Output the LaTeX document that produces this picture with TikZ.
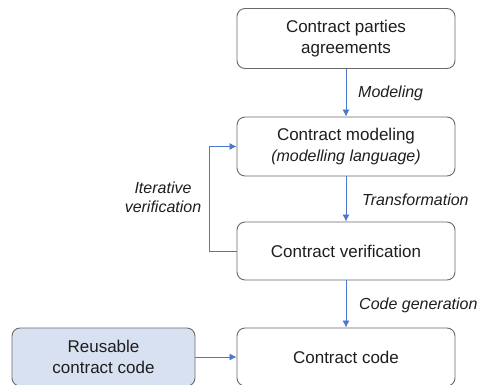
\documentclass[tikz,border=0pt]{standalone}
\usepackage{fontspec}
\setmainfont{Liberation Sans}
\usetikzlibrary{arrows.meta}
\definecolor{boxline}{HTML}{6A6A6A}
\definecolor{arrowblue}{HTML}{4A78CC}
\definecolor{reusefill}{HTML}{D8E1F1}
\definecolor{txt}{HTML}{1E1E1E}
\tikzset{
  x=1pt, y=-1pt,
  procbox/.style={draw=boxline, line width=0.9pt, rounded corners=8pt, fill=white,
    minimum height=58pt, align=center, text=txt, inner sep=0pt,
    font=\fontsize{17}{21.5}\selectfont},
  reusebox/.style={procbox, fill=reusefill},
  flow/.style={draw=arrowblue, line width=0.8pt, -{Latex[length=7pt,width=7pt]}},
  lbl/.style={font=\fontsize{16}{19}\selectfont\itshape, text=txt, inner sep=0pt, align=center}
}
\begin{document}
\begin{tikzpicture}
\useasboundingbox (0,0) rectangle (477,385);
\node[procbox, minimum width=218pt, minimum height=60pt] (cpa) at (346,38.5) {Contract parties\\agreements};
\node[procbox, minimum width=218pt, minimum height=59pt] (cm) at (346,146.5) {Contract modeling\\{\fontsize{16}{19}\selectfont\itshape (modelling language)}};
\node[procbox, minimum width=218pt] (cv) at (346,251) {Contract verification};
\node[procbox, minimum width=218pt] (cc) at (346,357) {Contract code};
\node[reusebox, minimum width=183pt] (rc) at (103.5,357) {Reusable\\contract code};
\draw[flow] (cpa) -- (cm);
\draw[flow] (cm) -- (cv);
\draw[flow] (cv) -- (cc);
\draw[flow] (rc) -- (cc);
\coordinate (loopx) at (209,0);
\draw[flow] (cv.west) -| (loopx |- cv.west) |- (cm.west);
\node[lbl, anchor=west] (l1) at (358,93) {Modeling};
\node[lbl, anchor=west] (l2) at (362,200) {Transformation};
\node[lbl, anchor=west] (l3) at (359,305) {Code generation};
\node[lbl] (l4) at (163,197.5) {Iterative\\verification};
\end{tikzpicture}
\end{document}
